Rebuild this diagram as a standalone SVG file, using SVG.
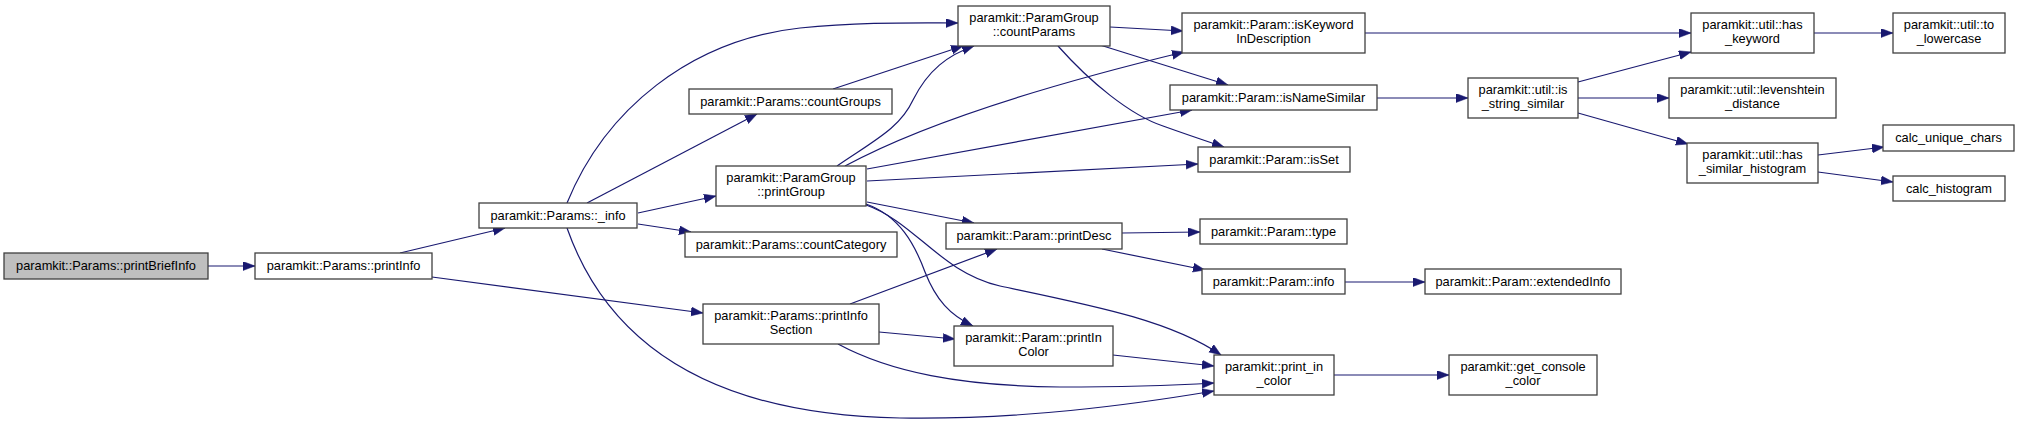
<svg xmlns="http://www.w3.org/2000/svg" width="2020" height="422" viewBox="0 0 2020 422">
<style>
.n rect{fill:#ffffff;stroke:#404040;stroke-width:1.3}
.n.root rect{fill:#bfbfbf}
.n text{font-family:"Liberation Sans",Arial,sans-serif;font-size:12.8px;fill:#000000;text-anchor:middle}
#edges path{fill:none;stroke:#191970;stroke-width:1.2;marker-end:url(#arr)}
</style>
<defs>
<marker id="arr" markerUnits="userSpaceOnUse" markerWidth="13" markerHeight="10" refX="12" refY="4.5" orient="auto">
<path d="M0,0 L12,4.5 L0,9 Z" fill="#191970" stroke="#191970" stroke-width="0.5"/>
</marker>
</defs>
<rect width="2020" height="422" fill="#ffffff"/>
<g id="edges">
<path d="M208,266 L255,266"/>
<path d="M400,253 L505,228"/>
<path d="M432,277 L703,313"/>
<path d="M567,203 C605,110 690,40 800,28 C860,22 910,23 958,23"/>
<path d="M587,203 L757,114"/>
<path d="M638,213 L716,196"/>
<path d="M638,224 L691,232"/>
<path d="M567,228 C610,350 720,415 900,418 C1020,420 1130,405 1214,391"/>
<path d="M833,89 L963,46"/>
<path d="M837,166 C875,140 900,128 913,100 C928,70 948,55 974,46"/>
<path d="M845,166 C930,120 1060,82 1184,52"/>
<path d="M867,169 L1192,110"/>
<path d="M867,181 L1198,164"/>
<path d="M867,202 L974,223"/>
<path d="M866,204 C900,216 915,245 925,272 C936,300 950,315 973,326"/>
<path d="M866,205 C915,222 940,272 1000,286 C1090,305 1170,320 1221,355"/>
<path d="M850,304 L997,249"/>
<path d="M879,332 L955,339"/>
<path d="M838,344 C890,372 960,386 1060,387 C1130,387 1180,385 1214,383"/>
<path d="M1113,355 L1214,366"/>
<path d="M1110,27 L1183,31"/>
<path d="M1100,45 L1228,85"/>
<path d="M1058,46 C1090,82 1130,115 1163,126 C1188,135 1206,141 1224,147"/>
<path d="M1122,233 L1200,232"/>
<path d="M1102,249 L1205,270"/>
<path d="M1345,282 L1425,282"/>
<path d="M1334,375 L1449,375"/>
<path d="M1365,33 L1691,33"/>
<path d="M1377,98 L1468,98"/>
<path d="M1578,82 L1691,52"/>
<path d="M1578,98 L1669,98"/>
<path d="M1578,113 L1688,144"/>
<path d="M1814,33 L1893,33"/>
<path d="M1818,155 L1884,147"/>
<path d="M1818,172 L1893,182"/>
</g>
<g id="printBriefInfo" class="n root"><rect x="4" y="253" width="204" height="26"/><text x="106" y="270">paramkit::Params::printBriefInfo</text></g>
<g id="printInfo" class="n"><rect x="255" y="253" width="177" height="26"/><text x="343.5" y="270">paramkit::Params::printInfo</text></g>
<g id="info_" class="n"><rect x="479" y="203" width="158" height="25"/><text x="558" y="220">paramkit::Params::_info</text></g>
<g id="countGroups" class="n"><rect x="689" y="89" width="203" height="25"/><text x="790.5" y="106">paramkit::Params::countGroups</text></g>
<g id="countParams" class="n"><rect x="958" y="6" width="152" height="40"/><text x="1034" y="22">paramkit::ParamGroup</text><text x="1034" y="36">::countParams</text></g>
<g id="printGroup" class="n"><rect x="716" y="166" width="150" height="40"/><text x="791" y="182">paramkit::ParamGroup</text><text x="791" y="196">::printGroup</text></g>
<g id="countCategory" class="n"><rect x="685" y="232" width="212" height="25"/><text x="791" y="249">paramkit::Params::countCategory</text></g>
<g id="printInfoSection" class="n"><rect x="703" y="304" width="176" height="40"/><text x="791" y="320">paramkit::Params::printInfo</text><text x="791" y="334">Section</text></g>
<g id="printDesc" class="n"><rect x="946" y="223" width="176" height="26"/><text x="1034" y="240">paramkit::Param::printDesc</text></g>
<g id="printInColor" class="n"><rect x="954" y="326" width="159" height="40"/><text x="1033.5" y="342">paramkit::Param::printIn</text><text x="1033.5" y="356">Color</text></g>
<g id="print_in_color" class="n"><rect x="1214" y="355" width="120" height="40"/><text x="1274" y="371">paramkit::print_in</text><text x="1274" y="385">_color</text></g>
<g id="isKeywordInDescription" class="n"><rect x="1182" y="13" width="183" height="40"/><text x="1273.5" y="29">paramkit::Param::isKeyword</text><text x="1273.5" y="43">InDescription</text></g>
<g id="isNameSimilar" class="n"><rect x="1170" y="85" width="207" height="25"/><text x="1273.5" y="102">paramkit::Param::isNameSimilar</text></g>
<g id="isSet" class="n"><rect x="1198" y="147" width="152" height="25"/><text x="1274" y="164">paramkit::Param::isSet</text></g>
<g id="type" class="n"><rect x="1200" y="219" width="147" height="25"/><text x="1273.5" y="236">paramkit::Param::type</text></g>
<g id="paraminfo" class="n"><rect x="1202" y="269" width="143" height="25"/><text x="1273.5" y="286">paramkit::Param::info</text></g>
<g id="extendedInfo" class="n"><rect x="1425" y="269" width="196" height="25"/><text x="1523" y="286">paramkit::Param::extendedInfo</text></g>
<g id="is_string_similar" class="n"><rect x="1468" y="78" width="110" height="40"/><text x="1523" y="94">paramkit::util::is</text><text x="1523" y="108">_string_similar</text></g>
<g id="levenshtein_distance" class="n"><rect x="1669" y="78" width="167" height="40"/><text x="1752.5" y="94">paramkit::util::levenshtein</text><text x="1752.5" y="108">_distance</text></g>
<g id="has_keyword" class="n"><rect x="1691" y="13" width="123" height="40"/><text x="1752.5" y="29">paramkit::util::has</text><text x="1752.5" y="43">_keyword</text></g>
<g id="to_lowercase" class="n"><rect x="1893" y="13" width="112" height="40"/><text x="1949" y="29">paramkit::util::to</text><text x="1949" y="43">_lowercase</text></g>
<g id="has_similar_histogram" class="n"><rect x="1687" y="143" width="131" height="40"/><text x="1752.5" y="159">paramkit::util::has</text><text x="1752.5" y="173">_similar_histogram</text></g>
<g id="calc_unique_chars" class="n"><rect x="1883" y="125" width="131" height="26"/><text x="1948.5" y="142">calc_unique_chars</text></g>
<g id="calc_histogram" class="n"><rect x="1893" y="176" width="112" height="25"/><text x="1949" y="193">calc_histogram</text></g>
<g id="get_console_color" class="n"><rect x="1449" y="355" width="148" height="40"/><text x="1523" y="371">paramkit::get_console</text><text x="1523" y="385">_color</text></g>
</svg>
